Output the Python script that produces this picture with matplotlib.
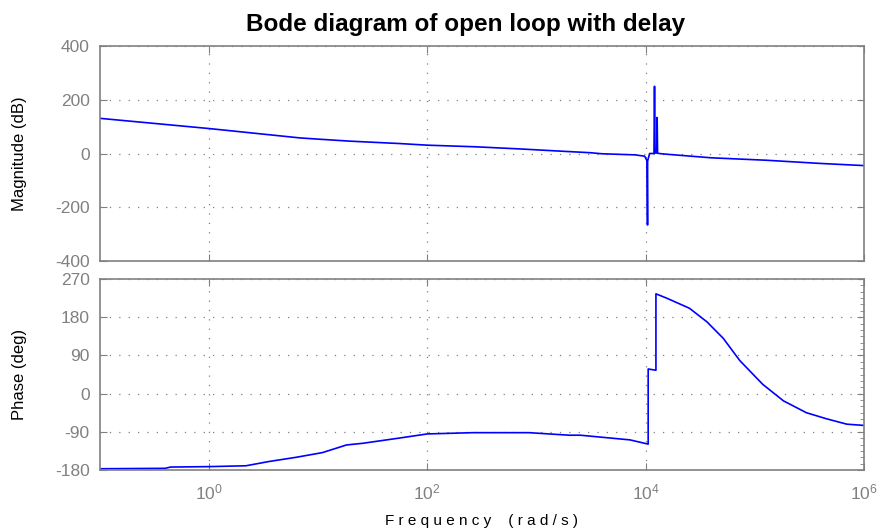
import numpy as np
import matplotlib
matplotlib.use("Agg")
import matplotlib.pyplot as plt
from matplotlib.ticker import NullLocator, MultipleLocator

plt.rcParams['font.family'] = ['Liberation Sans', 'DejaVu Sans']
plt.rcParams['axes.unicode_minus'] = False

# -------------------------------------------
# Values (log10 of frequency in rad/s)
# -------------------------------------------
mag_logw = [-1.0, 0.0, 0.835, 1.02, 1.29, 1.75, 2.0, 2.44, 2.85, 3.21, 3.49,
            3.6, 3.9, 3.99, 4.012, 4.016, 4.017, 4.035, 4.075, 4.08, 4.085,
            4.1, 4.104, 4.108, 4.12, 4.2, 4.6, 5.1, 5.6, 6.0]
mag_db = [131, 93, 58, 53, 46, 37, 31, 25, 17, 9, 3,
          -1, -5, -10, -28, -266, -28, 0, 0, 250, 2,
          2, 134, 2, 0, -3, -16, -25, -37, -45]

phase_logw = [-1.0, -0.4, -0.35, 0.0, 0.34, 0.55, 0.8, 1.04, 1.26, 1.41,
              1.71, 2.0, 2.42, 2.93, 3.30, 3.40, 3.855, 4.022, 4.022, 4.093,
              4.093, 4.19, 4.40, 4.56, 4.71, 4.86, 5.07, 5.26, 5.47, 5.65,
              5.84, 6.0]
phase_deg = [-177, -176, -173, -172, -170, -160, -150, -139, -121, -117,
             -106, -95, -92, -92, -98, -98, -109, -119, 58, 55,
             235, 225, 201, 169, 130, 78, 22, -17, -45, -59,
             -72, -75]

freq_ticks = [1e0, 1e2, 1e4, 1e6]
mag_ticks = [-400, -200, 0, 200, 400]
phase_ticks = [-180, -90, 0, 90, 180, 270]

w_mag = 10.0 ** np.array(mag_logw)
w_phase = 10.0 ** np.array(phase_logw)

gray = '#808080'
blue = '#0000ff'

fig = plt.figure(figsize=(8.81, 5.32), dpi=100)
ax1 = fig.add_axes([0.113, 0.5094, 0.868, 0.4041])
ax2 = fig.add_axes([0.113, 0.1165, 0.868, 0.3591])

ax1.plot(w_mag, mag_db, color=blue, lw=1.2)
ax2.plot(w_phase, phase_deg, color=blue, lw=1.2)

for ax in (ax1, ax2):
    ax.set_xscale('log')
    ax.set_xlim(0.1, 1e6)
    ax.set_xticks(freq_ticks)
    ax.xaxis.set_minor_locator(NullLocator())
    ax.grid(True, color=gray, linestyle=(0, (1, 6.5)), linewidth=0.9)
    ax.tick_params(direction='in', top=True, right=True, colors=gray,
                   labelcolor=gray, labelsize=12.5, length=5, pad=7)
    for s in ax.spines.values():
        s.set_color(gray)
        s.set_linewidth(1.2)

ax1.set_ylim(-400, 400)
ax1.set_yticks(mag_ticks)
ax1.tick_params(labelbottom=False)
ax1.set_ylabel('Magnitude (dB)', fontsize=12, labelpad=20)

ax2.set_ylim(-180, 270)
ax2.set_yticks(phase_ticks)
ax2.yaxis.set_minor_locator(MultipleLocator(15))
ax2.tick_params(which='minor', direction='in', left=False, right=True,
                length=3, colors=gray)
ax2.set_ylabel('Phase (deg)', fontsize=12, labelpad=20)
ax2.tick_params(axis='x', pad=9)
ax2.set_xlabel('F r e q u e n c y    ( r a d / s )', fontsize=11, labelpad=8)

ax1.set_title('Bode diagram of open loop with delay', fontsize=17.5,
              fontweight='bold', pad=11, x=0.478)

fig.savefig('out.png', dpi=100)
